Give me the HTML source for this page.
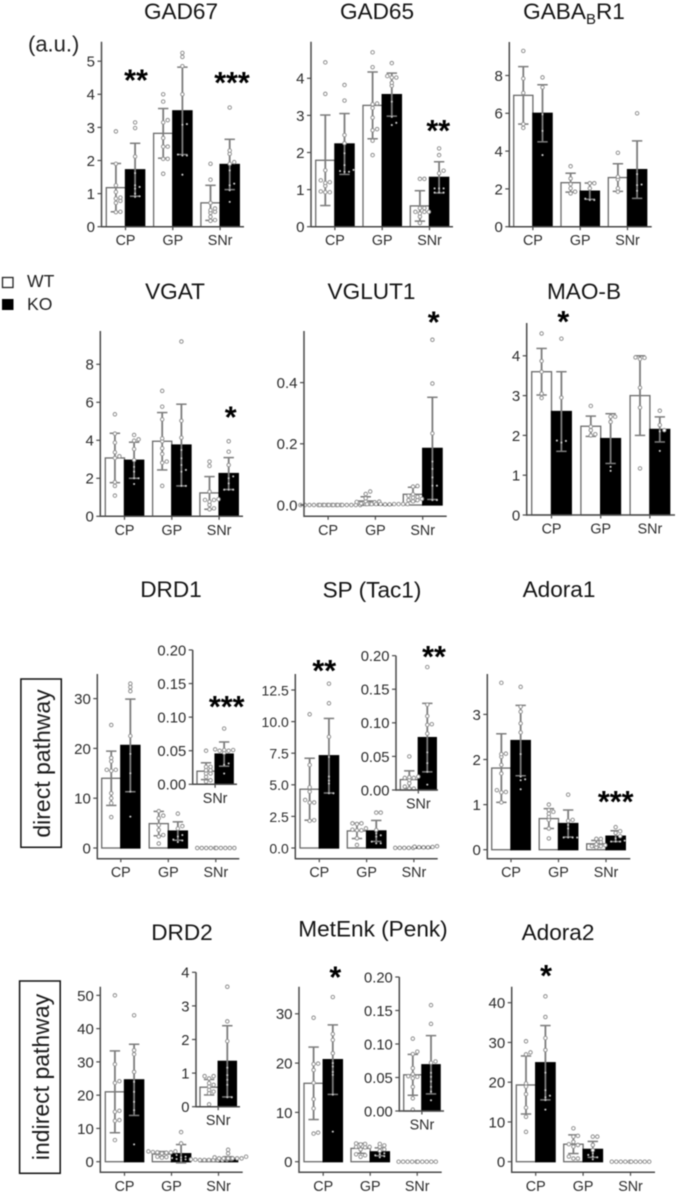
<!DOCTYPE html>
<html lang="en">
<head>
<meta charset="utf-8">
<title>Relative mRNA expression in WT and KO</title>
<style>
html,body{margin:0;padding:0;background:#fff;width:677px;height:1192px;overflow:hidden}
svg{display:block;filter:blur(.4px)}
text{font-family:"Liberation Sans",sans-serif}
.title{font-size:22.6px;fill:#151515;text-anchor:middle}
.side{font-size:23px;fill:#1c1c1c;text-anchor:middle}
</style>
</head>
<body>
<svg id="fig" xmlns="http://www.w3.org/2000/svg" width="677" height="1192" viewBox="0 0 677 1192">
<rect width="677" height="1192" fill="#fff"/>
<text class="title" x="181" y="19">GAD67</text>
<text class="title" x="377" y="19">GAD65</text>
<text class="title" x="574" y="19">GABA<tspan font-size="15" dy="5">B</tspan><tspan dy="-5">R1</tspan></text>
<text class="title" x="175" y="299">VGAT</text>
<text class="title" x="371.5" y="299">VGLUT1</text>
<text class="title" x="584" y="299">MAO-B</text>
<text class="title" x="171" y="597">DRD1</text>
<text class="title" x="372" y="597.5">SP (Tac1)</text>
<text class="title" x="559" y="597">Adora1</text>
<text class="title" x="182" y="940">DRD2</text>
<text class="title" x="373" y="936.7">MetEnk (Penk)</text>
<text class="title" x="558" y="940">Adora2</text>
<text x="28" y="51.5" font-size="22" fill="#222">(a.u.)</text>
<rect x="2.5" y="277.5" width="10.5" height="10" fill="#fff" stroke="#222" stroke-width="1.3"/>
<text x="27" y="287" font-size="17.6" fill="#222">WT</text>
<rect x="2" y="299" width="11.5" height="11" fill="#000"/>
<text x="27" y="310" font-size="17.6" fill="#222">KO</text>
<rect x="20.9" y="679" width="40.4" height="168.3" fill="#fff" stroke="#111" stroke-width="1.5"/>
<text class="side" transform="translate(50 763.5) rotate(-90)">direct pathway</text>
<rect x="19.6" y="981" width="40.6" height="192.3" fill="#fff" stroke="#111" stroke-width="1.5"/>
<text class="side" transform="translate(49 1077) rotate(-90)">indirect pathway</text>
</svg>
<script>
const regions = ['CP','GP','SNr'];
const snrOnly = ['SNr'];

const gad67Ticks = [0,1,2,3,4,5];
const gad67Mean = [1.18,1.72,2.82,3.5,0.72,1.88];
const gad67Sd = [0.73,0.8,0.75,1.32,0.53,0.76];
const gad67Points = [
 [2.88,1.9,1.25,1.05,0.88,0.85,0.78,0.72,0.45,0.44],
 [3.15,2.98,2.12,1.62,1.25,1.2,1.15,1.0,0.92,0.9],
 [4.0,3.78,3.22,3.15,2.68,2.42,2.42,2.05,2.05,1.6],
 [5.25,5.13,4.85,4.0,3.1,3.08,2.18,2.15,2.15,1.57],
 [1.9,1.42,0.72,0.55,0.5,0.45,0.42,0.3,0.2,0.18],
 [3.6,2.3,2.2,1.95,1.9,1.7,1.3,1.25,1.1,0.75]];

const gad65Ticks = [0,1,2,3,4];
const gad65Mean = [1.79,2.23,3.27,3.56,0.56,1.33];
const gad65Sd = [1.22,0.82,0.9,0.58,0.41,0.42];
const gad65Points = [
 [4.43,3.58,1.52,1.25,1.2,1.18,1.1,0.95,0.93,0.93],
 [3.82,3.4,2.47,2.25,1.98,1.66,1.53,1.48,1.48,1.5],
 [4.7,4.3,3.32,3.2,2.94,2.63,2.32,1.93,3.3,2.6],
 [4.41,4.06,4.02,4.02,3.88,3.8,3.37,2.96,2.8,2.74],
 [1.29,1.29,0.5,0.4,0.4,0.4,0.5,0.36,0.27,0.1],
 [2.11,1.93,1.51,1.44,1.03,1.03,1.03,0.92,0.92,0.92]];

const gababTicks = [0,2,4,6,8];
const gababMean = [6.95,6.0,2.33,1.88,2.6,3.02];
const gababSd = [1.52,1.51,0.5,0.43,0.73,1.52];
const gababPoints = [
 [9.3,7.84,7.08,5.43,5.23],
 [7.9,7.37,5.94,5.07,3.79],
 [3.2,2.55,2.25,2.03,1.85,1.76],
 [2.3,2.3,2.03,1.41,1.41,1.48],
 [3.91,2.64,2.5,2.03,1.85],
 [6.0,2.78,2.2,2.23,1.9]];

const vgatTicks = [0,2,4,6,8];
const vgatMean = [3.07,2.95,3.95,3.75,1.23,2.25];
const vgatSd = [1.3,0.95,1.51,2.15,0.86,0.84];
const vgatPoints = [
 [5.37,4.35,3.88,3.37,3.16,3.07,1.8,1.6,1.09],
 [4.28,4.05,3.98,3.54,2.96,2.6,2.35,2.0,2.0,1.7],
 [6.6,5.77,5.1,4.1,3.95,3.58,3.28,2.88,2.82,1.6],
 [9.2,5.03,4.14,3.49,3.05,2.7,2.44,2.35,1.6,1.6],
 [2.88,2.65,1.3,0.9,0.86,0.86,0.77,0.6,0.42,0.37],
 [3.95,3.4,2.7,2.1,2.0,1.73,1.4,1.4,1.4]];

const vglutTicks = [0,0.2,0.4];
const vglutMean = [0,0,0.013,0.002,0.035,0.185];
const vglutSd = [0,0,0.014,0,0.023,0.167];
const vglutPoints = [
 [0,0,0,0,0,0,0,0,0,0],
 [0,0,0,0,0,0,0,0,0,0],
 [0.044,0.036,0.022,0.012,0.011,0.01,0.009,0.005,0.004,0.003],
 [0.003,0.003,0.003,0.003,0.003,0.003,0.003,0.003,0.002,0.002],
 [0.06,0.062,0.035,0.03,0.027,0.016,0.016,0.02,0.024,0.012],
 [0.54,0.397,0.234,0.142,0.118,0.09,0.063,0.063,0.016,0.016]];

const maobTicks = [0,1,2,3,4];
const maobMean = [3.6,2.6,2.23,1.92,3.0,2.15];
const maobSd = [0.585,1.0,0.255,0.625,1.0,0.315];
const maobPoints = [
 [4.56,3.87,3.6,3.05,2.94],
 [4.43,2.95,1.86,1.87,1.82],
 [2.74,2.22,2.13,2.03,2.0],
 [2.47,2.47,2.34,1.21,1.11],
 [3.95,3.92,3.96,3.2,2.7,1.17],
 [2.62,2.26,2.13,2.1,1.61]];

const drd1Ticks = [0,10,20,30];
const drd1Mean = [14,20.6,4.9,3.4,0,0];
const drd1Sd = [5.45,9.3,2.45,1.85,0,0];
const drd1Points = [
 [24.7,18.1,17.4,15.7,15.7,15.5,11,10,9,6.2],
 [33,32.3,31.5,22.5,18.9,15,11.3,6.3],
 [7.4,6.5,6,4.6,3.6,2.6,2.3,0.9],
 [6.9,4.4,3.9,2.6,1.7,1.5,1.2,2.3],
 [0,0,0,0,0],
 [0,0,0,0,0]];
const drd1SnrTicks = [0,0.05,0.1,0.15,0.2];
const drd1SnrMean = [0.0195,0.045];
const drd1SnrSd = [0.0125,0.018];
const drd1SnrPoints = [
 [0.05,0.026,0.021,0.021,0.016,0.016,0.011,0.006,0.004,0.026],
 [0.083,0.051,0.051,0.05,0.05,0.047,0.031,0.029,0.016,0.052]];

const spTicks = [0,2.5,5,7.5,10,12.5];
const spTickLabels = ['0.0','2.5','5.0','7.5','10.0','12.5'];
const spMean = [4.65,7.3,1.35,1.35,0.01,0.08];
const spSd = [2.45,2.95,0.6,0.83,0,0];
const spPoints = [
 [10.58,6.57,4.8,4.46,3.8,3.6,3.6,2.2,2.15],
 [13,11.45,8.8,7.2,5.65,5.33,5.1,4.33,4.33],
 [1.95,1.95,1.9,1.55,1.45,0.77,0.24,1.4,1.4],
 [2.8,2.8,1.42,1.16,0.9,0.5,0.37,0.37,1.0],
 [0.01,0.01,0.01,0.01,0.01],
 [0.14,0.1,0.08,0.06,0.05,0.05]];
const spSnrTicks = [0,0.05,0.1,0.15,0.2];
const spSnrMean = [0.0155,0.078];
const spSnrSd = [0.013,0.051];
const spSnrPoints = [
 [0.05,0.02,0.019,0.018,0.015,0.01,0.005,0.002,0.018,0.002],
 [0.183,0.127,0.11,0.098,0.097,0.084,0.056,0.04,0.027,0.008]];

const adora1Ticks = [0,1,2,3];
const adora1Mean = [1.81,2.42,0.69,0.58,0.13,0.3];
const adora1Sd = [0.76,0.78,0.22,0.3,0.075,0.12];
const adora1Points = [
 [3.7,2.13,2.12,2.06,1.88,1.69,1.32,1.28,1.27,1.05],
 [3.61,3.17,3.06,2.8,2.6,2.12,1.62,1.56,1.54,1.34],
 [1.0,0.88,0.84,0.8,0.73,0.66,0.47,0.25],
 [1.22,0.66,0.64,0.55,0.47,0.27,0.27,0.27,0.27],
 [0.24,0.24,0.17,0.12,0.1,0.08,0.08,0.05],
 [0.5,0.41,0.37,0.3,0.25,0.2,0.18,0.18,0.18]];

const drd2Ticks = [0,10,20,30,40,50];
const drd2Mean = [21,24.6,2.3,2.4,0.6,1.0];
const drd2Sd = [12.3,10.7,0.75,2.75,0.1,0.5];
const drd2Points = [
 [50,29.3,24.2,23.7,15.3,15,12.5,12.3,6.5],
 [44,33.5,32.3,27,24,21,18,15.5,5.2],
 [3.1,3.1,2.9,2.8,2.8,2.7,2.5,1.5,1.4,1.2],
 [8.9,5.5,2,1.5,1.1,1.3,0.9,0.8,0.7,0.5],
 [0.8,0.7,0.6,0.6,0.5,0.5,0.5,0.5,0.5,0.5],
 [3.6,2.5,1.5,1.3,1,1,1,1,1,1]];
const drd2SnrTicks = [0,1,2,3,4];
const drd2SnrMean = [0.58,1.35];
const drd2SnrSd = [0.23,1.06];
const drd2SnrPoints = [
 [0.91,0.91,0.84,0.7,0.65,0.6,0.5,0.45,0.4,0.07],
 [3.57,2.54,1.95,1.16,0.94,0.8,0.65,0.28,0.28]];

const metenkTicks = [0,10,20,30];
const metenkMean = [15.9,20.7,2.7,2.0,0,0];
const metenkSd = [7.35,7.05,1.0,0.8,0,0];
const metenkPoints = [
 [29.2,19.9,19.8,18.6,16,12.7,10.8,5.9,5.7],
 [33.4,25.9,24.7,22,20,19.3,18.2,17.6,13.6,6.1],
 [3.7,3.6,3.5,3,3,2.9,2.5,1.5,1.3,1],
 [3.6,3.3,3,2.5,2.2,1.7,1.5,1.3,1.1,0.9],
 [0,0,0,0,0],
 [0,0,0,0,0]];
const metenkSnrTicks = [0,0.05,0.1,0.15,0.2];
const metenkSnrMean = [0.054,0.069];
const metenkSnrSd = [0.0305,0.0435];
const metenkSnrPoints = [
 [0.108,0.0885,0.085,0.064,0.055,0.052,0.051,0.049,0.036,0.019,0.002],
 [0.158,0.13,0.074,0.072,0.057,0.051,0.044,0.036,0.029,0.016]];

const adora2Ticks = [0,10,20,30,40];
const adora2Mean = [19.3,24.9,4.4,3.1,0,0];
const adora2Sd = [7.3,9.35,2.35,2.0,0,0];
const adora2Points = [
 [30.3,27.5,27,19.7,18.9,17,13.6,11.3,7.5],
 [41.6,36.4,31.1,28.1,22.4,18,16.6,16.2,15.5,13.1],
 [8.4,6.5,6.3,5,4.4,4.2,3.8,1.3,0.8,0.8],
 [6.3,6.3,4.2,2.9,2.1,1.7,1.3,1.1,0.6],
 [0,0,0,0,0],
 [0,0,0,0,0]];

const svg = document.getElementById('fig');
const NS = 'http://www.w3.org/2000/svg';

function mk(parent, tag, attrs) {
  const el = document.createElementNS(NS, tag);
  for (const k in attrs) el.setAttribute(k, attrs[k]);
  parent.appendChild(el);
  return el;
}

function swarm(values, spacing) {
  const sorted = values.slice().sort((a, b) => a.v - b.v);
  const placed = [];
  sorted.forEach(p => {
    for (let i = 0; i < 20; i++) {
      const off = (i % 2 ? 1 : -1) * Math.ceil(i / 2) * spacing;
      const hit = placed.some(q => Math.abs(q.x - off) < spacing * 0.9 && Math.abs(q.y - p.v) < 2.6);
      if (!hit) { placed.push({x: off, y: p.v}); break; }
    }
  });
  return placed;
}

function drawChart(c) {
  const g = mk(svg, 'g', {});
  
  
  const yScale = v => c.zeroY - v * c.ppu;
  const barX = i => c.xStart + Math.floor(i / 2) * c.step + (i % 2) * c.barW;
  const groupX = k => c.xStart + k * c.step + c.barW;

  c.mean.forEach((m, i) => {
    const y = yScale(m);
    const bar = mk(g, 'rect', {
      x: barX(i), y: Math.min(y, c.zeroY), width: c.barW, height: Math.abs(c.zeroY - y),
      fill: i % 2 ? '#000' : '#fff', stroke: i % 2 ? '#000' : '#6a6a6a', 'stroke-width': 1.3
    });
    
    
  });

  c.mean.forEach((m, i) => {
    const cx = barX(i) + c.barW / 2;
    const sd = c.sd[i];
    if (sd > 0) {
      const line = mk(g, 'line', {x1: cx, x2: cx, y1: yScale(m + sd), y2: yScale(m - sd), stroke: '#7c7c7c', 'stroke-width': 1.8});
      
      
      [m + sd, m - sd].forEach(v => {
        const cap = mk(g, 'line', {x1: cx - 5.2, x2: cx + 5.2, y1: yScale(v), y2: yScale(v), stroke: '#7c7c7c', 'stroke-width': 1.5});
        
        
      });
    }
    const pts = swarm(c.points[i].map(v => ({v: v * c.ppu})), 4.5);
    pts.forEach(p => {
      const cy = c.zeroY - p.y;
      const onBlack = i % 2 === 1 && cy > yScale(m) + 1;
      const dot = mk(g, 'circle', onBlack
        ? {cx: cx + p.x, cy: cy, r: 1.05, fill: '#c8c8c8'}
        : {cx: cx + p.x, cy: cy, r: 1.75, fill: '#fff', stroke: '#8c8c8c', 'stroke-width': 0.95});
      
      
    });
  });

  const yAxis = mk(g, 'line', {x1: c.axisX, x2: c.axisX, y1: c.top, y2: c.axisY + 0.7, stroke: '#4a4a4a', 'stroke-width': 1.5});
  
  
  const xAxis = mk(g, 'line', {x1: c.axisX, x2: c.right, y1: c.axisY, y2: c.axisY, stroke: '#4a4a4a', 'stroke-width': 1.5});
  
  

  c.ticks.forEach((t, i) => {
    const y = yScale(t);
    const tick = mk(g, 'line', {x1: c.axisX - 4, x2: c.axisX, y1: y, y2: y, stroke: '#4a4a4a', 'stroke-width': 1.2});
    
    
    const lab = mk(g, 'text', {x: c.axisX - 6.5, y: y + 5.4, 'text-anchor': 'end', 'font-size': c.tickFont || 15, fill: '#2c2c2c'});
    
    
    lab.textContent = c.tickLabels ? c.tickLabels[i] : (c.decimals ? t.toFixed(c.decimals) : String(t));
  });

  c.cats.forEach((cat, k) => {
    const x = groupX(k);
    const tick = mk(g, 'line', {x1: x, x2: x, y1: c.axisY, y2: c.axisY + 3.5, stroke: '#4a4a4a', 'stroke-width': 1.2});
    
    
    const lab = mk(g, 'text', {x: x, y: c.axisY + 18.5, 'text-anchor': 'middle', 'font-size': 14.3, fill: '#2c2c2c'});
    
    
    lab.textContent = cat;
  });
}

function drawStar(text, cx, cy) {
  const st = mk(svg, 'text', {x: cx, y: cy + 13.5, 'text-anchor': 'middle', 'font-size': 30.5, 'font-weight': 'bold', fill: '#000'});
  
  
  st.textContent = text;
}

drawChart({name:'chart-gad67',cats:regions,axisX:101.5,xStart:106.3,barW:19.2,step:47.3,zeroY:226.7,axisY:226.7,ppu:33.1,top:41.7,right:244,ticks:gad67Ticks,mean:gad67Mean,sd:gad67Sd,points:gad67Points});
drawChart({name:'chart-gad65',cats:regions,axisX:311,xStart:315.7,barW:19.2,step:47.3,zeroY:226.7,axisY:226.7,ppu:37.1,top:41.7,right:453,ticks:gad65Ticks,mean:gad65Mean,sd:gad65Sd,points:gad65Points});
drawChart({name:'chart-gababr1',cats:regions,axisX:509.3,xStart:513.7,barW:19.2,step:47.3,zeroY:226.7,axisY:226.7,ppu:18.9,top:42,right:651.7,ticks:gababTicks,mean:gababMean,sd:gababSd,points:gababPoints});
drawChart({name:'chart-vgat',cats:regions,axisX:100.3,xStart:105.3,barW:19.2,step:47.3,zeroY:516.3,axisY:516.3,ppu:19,top:331,right:243,ticks:vgatTicks,mean:vgatMean,sd:vgatSd,points:vgatPoints});
drawChart({name:'chart-vglut1',cats:regions,axisX:304,xStart:308.7,barW:19.4,step:47.3,zeroY:505,axisY:516.3,ppu:306,top:331,right:446.7,ticks:vglutTicks,decimals:1,mean:vglutMean,sd:vglutSd,points:vglutPoints});
drawChart({name:'chart-mao-b',cats:regions,axisX:526.7,xStart:531.7,barW:19.8,step:49.2,zeroY:515,axisY:515,ppu:39.8,top:323,right:675,ticks:maobTicks,mean:maobMean,sd:maobSd,points:maobPoints});
drawChart({name:'chart-drd1',cats:regions,axisX:97.3,xStart:101.7,barW:19.1,step:47.5,zeroY:848,axisY:858.7,ppu:4.98,top:674,right:239.3,ticks:drd1Ticks,mean:drd1Mean,sd:drd1Sd,points:drd1Points});
drawChart({name:'chart-drd1-snr-inset',cats:snrOnly,axisX:192.7,xStart:197,barW:18.1,step:0,zeroY:784.3,axisY:784.3,ppu:671.7,top:650,right:237,ticks:drd1SnrTicks,decimals:2,tickFont:14.8,mean:drd1SnrMean,sd:drd1SnrSd,points:drd1SnrPoints});
drawChart({name:'chart-sp-tac1',cats:regions,axisX:295.3,xStart:300,barW:19.3,step:47.3,zeroY:848,axisY:858.7,ppu:12.64,top:674,right:437.7,ticks:spTicks,tickLabels:spTickLabels,tickFont:14,mean:spMean,sd:spSd,points:spPoints});
drawChart({name:'chart-sp-tac1-snr-inset',cats:snrOnly,axisX:396,xStart:400.3,barW:18,step:0,zeroY:790,axisY:790,ppu:671.7,top:655.7,right:438,ticks:spSnrTicks,decimals:2,tickFont:14.8,mean:spSnrMean,sd:spSnrSd,points:spSnrPoints});
drawChart({name:'chart-adora1',cats:regions,axisX:487.3,xStart:491.7,barW:19.3,step:47.5,zeroY:849.7,axisY:858.7,ppu:45.1,top:674,right:630.3,ticks:adora1Ticks,mean:adora1Mean,sd:adora1Sd,points:adora1Points});
drawChart({name:'chart-drd2',cats:regions,axisX:100.3,xStart:105.3,barW:19.2,step:47,zeroY:1161.7,axisY:1172.3,ppu:3.327,top:986.7,right:242.7,ticks:drd2Ticks,mean:drd2Mean,sd:drd2Sd,points:drd2Points});
drawChart({name:'chart-drd2-snr-inset',cats:snrOnly,axisX:196,xStart:200,barW:18.2,step:0,zeroY:1106.7,axisY:1106.7,ppu:33.6,top:972.3,right:240,ticks:drd2SnrTicks,tickFont:14.8,mean:drd2SnrMean,sd:drd2SnrSd,points:drd2SnrPoints});
drawChart({name:'chart-metenk-penk',cats:regions,axisX:299,xStart:304,barW:19.2,step:47,zeroY:1161.7,axisY:1172.3,ppu:4.93,top:986.7,right:441.7,ticks:metenkTicks,mean:metenkMean,sd:metenkSd,points:metenkPoints});
drawChart({name:'chart-metenk-penk-snr-inset',cats:snrOnly,axisX:399.3,xStart:403.7,barW:18.2,step:0,zeroY:1111,axisY:1111,ppu:670,top:977,right:444,ticks:metenkSnrTicks,decimals:2,tickFont:14.8,mean:metenkSnrMean,sd:metenkSnrSd,points:metenkSnrPoints});
drawChart({name:'chart-adora2',cats:regions,axisX:511.7,xStart:516.3,barW:19.4,step:47.4,zeroY:1161.7,axisY:1172.3,ppu:3.975,top:986.7,right:655,ticks:adora2Ticks,mean:adora2Mean,sd:adora2Sd,points:adora2Points});

drawStar('**',136,77);
drawStar('***',232,79.3);
drawStar('**',438.3,127.7);
drawStar('*',230.7,414);
drawStar('*',433.7,319);
drawStar('*',563.3,318.3);
drawStar('***',226.7,703.3);
drawStar('**',324.3,667.3);
drawStar('**',434,653.3);
drawStar('***',615.7,798.3);
drawStar('*',335.3,974);
drawStar('*',546,972.3);
</script>
</body>
</html>
